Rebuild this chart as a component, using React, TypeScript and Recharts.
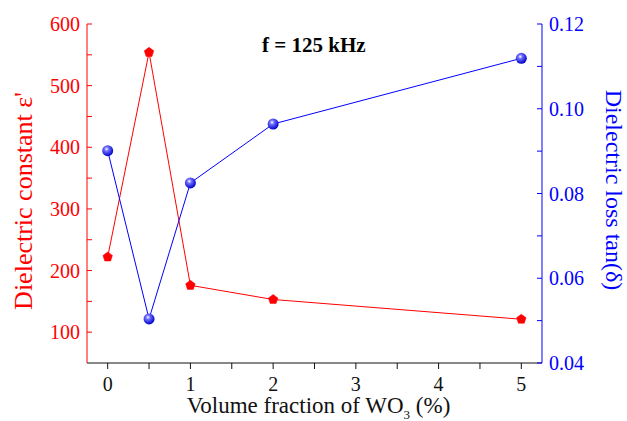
import { Line, LineChart, XAxis, YAxis } from "recharts";

const volumeFraction = [0, 0.5, 1, 2, 5];
const dielectricConstant = [222, 554, 176, 153, 121];
const lossTangent = [0.0901, 0.0504, 0.0825, 0.0964, 0.1119];

const xTicks = [0, 0.5, 1, 1.5, 2, 2.5, 3, 3.5, 4, 4.5, 5];
const leftTicks = [100, 150, 200, 250, 300, 350, 400, 450, 500, 550, 600];
const rightTicks = [0.04, 0.05, 0.06, 0.07, 0.08, 0.09, 0.1, 0.11, 0.12];

const data = volumeFraction.map((x, i) => ({
  x,
  eps: dielectricConstant[i],
  tan: lossTangent[i],
}));

const FONT = "'Liberation Serif', 'Times New Roman', serif";
const RED = "#ff0000";
const BLUE = "#0000ff";

function XTick({ x, y, payload }: any) {
  if (!Number.isInteger(payload.value)) return <g />;
  return (
    <text x={x} y={y} dy="0.71em" textAnchor="middle" fill="#111" fontSize={20} fontFamily={FONT}>
      {payload.value}
    </text>
  );
}

function LeftTick({ x, y, payload }: any) {
  if (payload.value % 100 !== 0) return <g />;
  return (
    <text x={x} y={y} dy="0.35em" textAnchor="end" fill={RED} fontSize={20} fontFamily={FONT}>
      {payload.value}
    </text>
  );
}

function RightTick({ x, y, payload }: any) {
  const v = Math.round(payload.value * 100);
  if (v % 2 !== 0) return <g />;
  return (
    <text x={x} y={y} dy="0.35em" textAnchor="start" fill={BLUE} fontSize={20} fontFamily={FONT}>
      {payload.value.toFixed(2)}
    </text>
  );
}

function Pentagon({ cx, cy, index }: any) {
  const r = 5;
  const pts = [0, 1, 2, 3, 4]
    .map((k) => {
      const a = -Math.PI / 2 + (k * 2 * Math.PI) / 5;
      return `${cx + r * Math.cos(a)},${cy + r * Math.sin(a)}`;
    })
    .join(" ");
  return <polygon key={`p${index}`} points={pts} fill={RED} stroke={RED} strokeWidth={0.5} />;
}

function Ball({ cx, cy, index }: any) {
  const id = `ball${index}`;
  return (
    <g key={id}>
      <defs>
        <radialGradient id={id} cx="0.4" cy="0.35" r="0.65">
          <stop offset="0" stopColor="#ffffff" />
          <stop offset="0.3" stopColor="#6f6fff" />
          <stop offset="1" stopColor="#0000c8" />
        </radialGradient>
      </defs>
      <circle cx={cx} cy={cy} r={5.5} fill={`url(#${id})`} />
    </g>
  );
}

export default function App() {
  return (
    <div style={{ position: "absolute", left: 0, top: 0, width: 627, height: 421, background: "#fff" }}>
      <LineChart width={627} height={421} data={data} margin={{ top: 24, right: 20, bottom: 10, left: 10 }}>
        <XAxis
          dataKey="x"
          type="number"
          domain={[-0.25, 5.25]}
          ticks={xTicks}
          allowDataOverflow
          height={48}
          stroke="#111"
          tickSize={6}
          tickMargin={8}
          tick={<XTick />}
        />
        <XAxis
          xAxisId="top"
          orientation="top"
          type="number"
          domain={[-0.25, 5.25]}
          ticks={[0, 1, 2, 3, 4, 5]}
          allowDataOverflow
          height={0}
          stroke="#111"
          tickSize={3}
          tick={false}
        />
        <YAxis
          yAxisId="left"
          type="number"
          domain={[50, 600]}
          ticks={leftTicks}
          allowDataOverflow
          width={77}
          stroke={RED}
          tickSize={-5}
          tickMargin={12}
          tick={<LeftTick />}
          label={{
            content: () => (
              <text
                x={23}
                y={201}
                transform="rotate(-90, 23, 201)"
                textAnchor="middle"
                dominantBaseline="central"
                fill={RED}
                fontSize={26}
                fontFamily={FONT}
              >
                Dielectric constant ε'
              </text>
            ),
          }}
        />
        <YAxis
          yAxisId="right"
          orientation="right"
          type="number"
          domain={[0.04, 0.12]}
          ticks={rightTicks}
          allowDataOverflow
          width={65}
          stroke={BLUE}
          tickSize={-5}
          tickMargin={12}
          tick={<RightTick />}
          label={{
            content: () => (
              <text
                x={614}
                y={190}
                transform="rotate(90, 614, 190)"
                textAnchor="middle"
                dominantBaseline="central"
                fill={BLUE}
                fontSize={24}
                fontFamily={FONT}
              >
                Dielectric loss tan(δ)
              </text>
            ),
          }}
        />
        <Line
          yAxisId="left"
          dataKey="eps"
          type="linear"
          stroke={RED}
          strokeWidth={1}
          dot={<Pentagon />}
          activeDot={false}
          isAnimationActive={false}
        />
        <Line
          yAxisId="right"
          dataKey="tan"
          type="linear"
          stroke={BLUE}
          strokeWidth={1}
          dot={<Ball />}
          activeDot={false}
          isAnimationActive={false}
        />
      </LineChart>
      <div
        style={{
          position: "absolute",
          left: 262,
          top: 33,
          fontFamily: FONT,
          fontWeight: "bold",
          fontSize: 21,
          color: "#000",
          whiteSpace: "nowrap",
        }}
      >
        f = 125 kHz
      </div>
      <div
        style={{
          position: "absolute",
          left: 0,
          width: 627,
          paddingLeft: 10,
          boxSizing: "border-box",
          textAlign: "center",
          top: 393,
          fontFamily: FONT,
          fontSize: 23,
          color: "#111",
          whiteSpace: "nowrap",
        }}
      >
        Volume fraction of WO<sub style={{ fontSize: 13 }}>3</sub> (%)
      </div>
    </div>
  );
}
